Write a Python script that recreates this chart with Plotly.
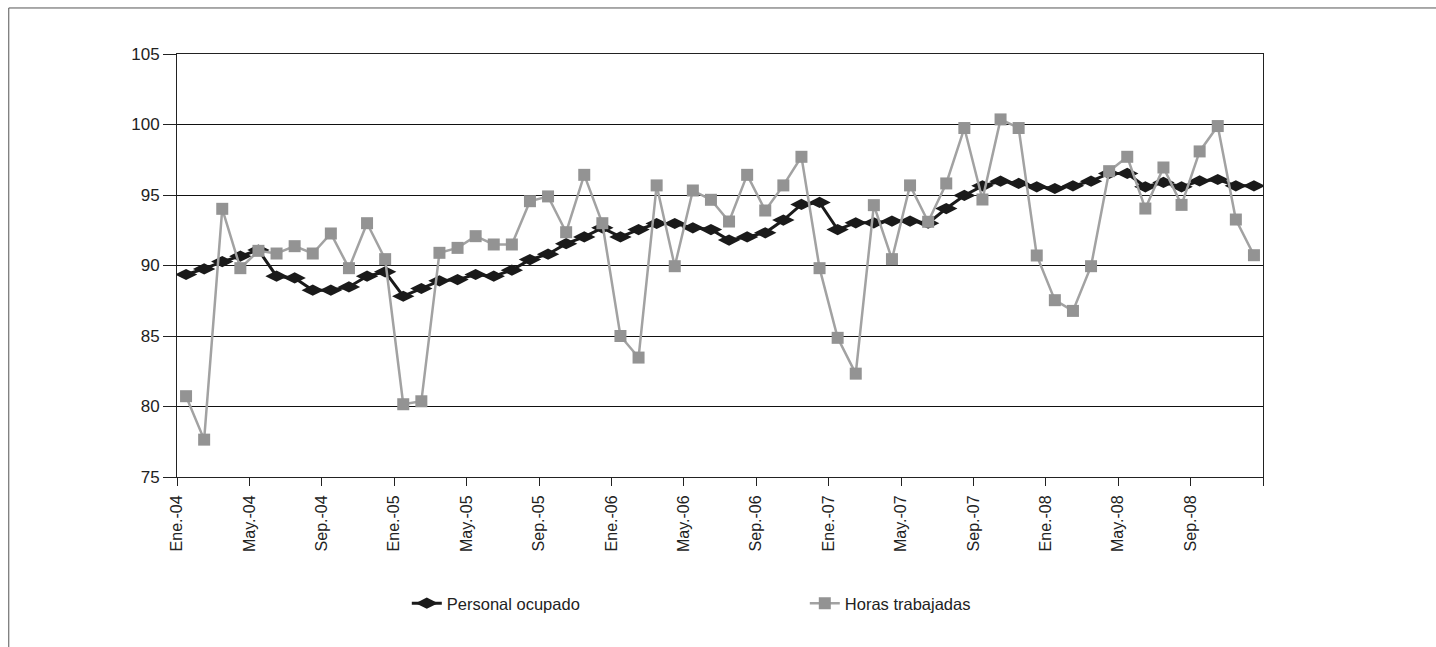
import numpy as np
import plotly.graph_objects as go

months = ["Ene.", "Feb.", "Mar.", "Abr.", "May.", "Jun.", "Jul.", "Ago.", "Sep.", "Oct.", "Nov.", "Dic."]
years = ["04", "05", "06", "07", "08"]
periodos = [f"{m}-{y}" for y in years for m in months]

personal_ocupado = [89.36, 89.76, 90.28, 90.66, 91.10, 89.24, 89.12, 88.25, 88.25, 88.48,
                    89.24, 89.55, 87.82, 88.37, 88.91, 89.00, 89.36, 89.24, 89.67, 90.42,
                    90.80, 91.55, 92.03, 92.67, 92.03, 92.55, 92.98, 92.98, 92.67, 92.55,
                    91.80, 92.03, 92.32, 93.22, 94.33, 94.47, 92.55, 93.03, 93.03, 93.15,
                    93.15, 93.00, 94.04, 94.97, 95.65, 95.98, 95.82, 95.58, 95.46, 95.65,
                    95.98, 96.53, 96.53, 95.58, 95.89, 95.58, 96.00, 96.10, 95.65, 95.65]

horas_trabajadas = [80.73, 77.65, 94.02, 89.81, 91.04, 90.85, 91.37, 90.85, 92.27, 89.81,
                    93.00, 90.45, 80.16, 80.37, 90.90, 91.25, 92.08, 91.49, 91.49, 94.56,
                    94.90, 92.36, 96.43, 93.00, 85.00, 83.47, 95.68, 89.95, 95.32, 94.66,
                    93.12, 96.43, 93.90, 95.68, 97.71, 89.81, 84.87, 82.33, 94.28, 90.45,
                    95.68, 93.10, 95.82, 99.75, 94.68, 100.36, 99.75, 90.71, 87.54, 86.78,
                    89.95, 96.69, 97.71, 94.04, 96.95, 94.30, 98.09, 99.89, 93.26, 90.73]

n = len(periodos)
xpos = np.arange(n) + 0.5
tick_step = 4
tickvals = list(range(0, n + 1, tick_step))
ticktext = [periodos[i] if i < n else "" for i in tickvals]

FONT = "Liberation Sans, Arial, Helvetica, sans-serif"
TXT = "#222222"

fig = go.Figure()
fig.add_trace(go.Scatter(
    x=xpos, y=personal_ocupado, name="Personal ocupado", mode="lines+markers",
    line=dict(color="#1a1a1a", width=3),
    marker=dict(symbol="diamond-wide", size=16, color="#1a1a1a"),
))
fig.add_trace(go.Scatter(
    x=xpos, y=horas_trabajadas, name="Horas trabajadas", mode="lines+markers",
    line=dict(color="#a2a2a2", width=2.5),
    marker=dict(symbol="square", size=12, color="#939393"),
))

fig.update_layout(
    width=1436, height=647,
    paper_bgcolor="white", plot_bgcolor="white",
    margin=dict(l=177, r=173, t=54, b=170),
    font=dict(family=FONT, size=16, color=TXT),
    showlegend=True,
    legend=dict(orientation="h", x=0.2116, xanchor="left", y=-0.299, yanchor="middle",
                entrywidth=353, entrywidthmode="pixels",
                font=dict(family=FONT, size=16.5, color=TXT),
                bgcolor="rgba(0,0,0,0)"),
    shapes=[dict(type="rect", xref="paper", yref="paper",
                 x0=-0.1549, x1=2.0, y0=-2.0, y1=1.1088,
                 line=dict(color="#555555", width=1), fillcolor="rgba(0,0,0,0)", layer="below")],
)
fig.update_xaxes(
    range=[0, n], tickmode="array", tickvals=tickvals, ticktext=ticktext,
    tickangle=-90, ticks="outside", ticklen=8, tickcolor=TXT,
    ticklabelstandoff=3,
    showline=True, linecolor=TXT, linewidth=1, mirror=True,
    showgrid=False, zeroline=False,
    tickfont=dict(family=FONT, size=16, color=TXT),
)
fig.update_yaxes(
    range=[75, 105], dtick=5, tick0=75, ticks="outside", ticklen=13, tickcolor=TXT,
    showline=True, linecolor=TXT, linewidth=1, mirror=True,
    showgrid=True, gridcolor="#111111", gridwidth=1, zeroline=False,
    tickfont=dict(family=FONT, size=17, color=TXT),
)

fig.write_html("out.html", config={"displayModeBar": False},
               post_script="document.body.style.margin='0';")
